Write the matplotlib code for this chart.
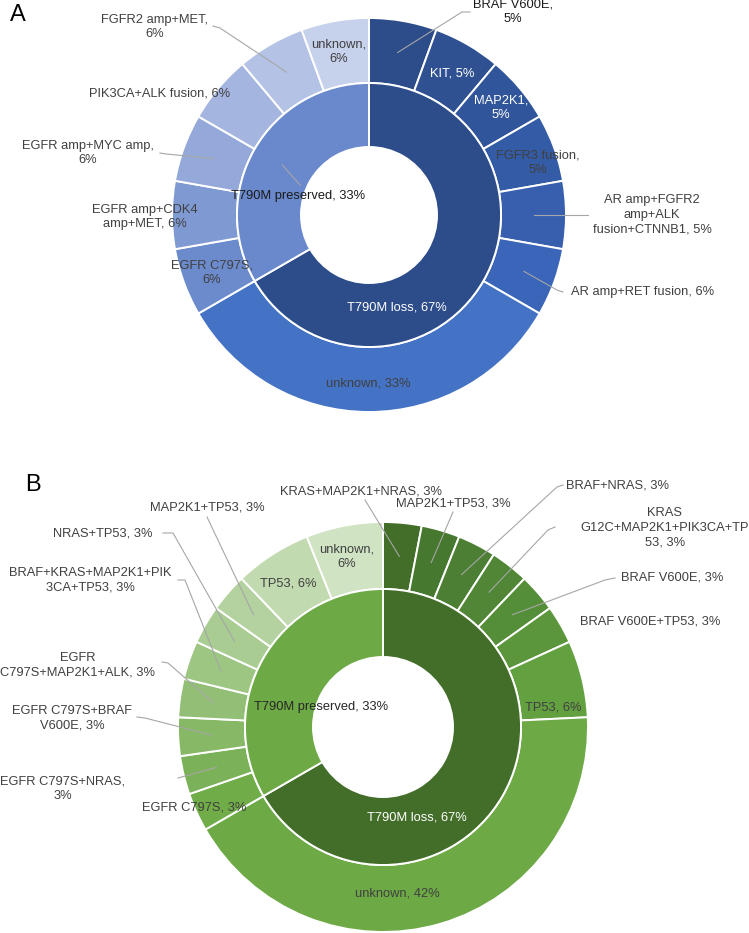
import matplotlib.pyplot as plt
import numpy as np

plt.rcParams['font.family'] = ['Liberation Sans', 'DejaVu Sans']

W, H = 749, 933

# ---- panel A data (patient counts, n=18) ----
a_inner_labels = ['T790M loss, 67%', 'T790M preserved, 33%']
a_inner_counts = [12, 6]
a_outer_labels = ['BRAF V600E,\n5%', 'KIT, 5%', 'MAP2K1,\n5%', 'FGFR3 fusion,\n5%',
                  'AR amp+FGFR2\namp+ALK\nfusion+CTNNB1, 5%', 'AR amp+RET fusion, 6%',
                  'unknown, 33%', 'EGFR C797S,\n6%', 'EGFR amp+CDK4\namp+MET, 6%',
                  'EGFR amp+MYC amp,\n6%', 'PIK3CA+ALK fusion, 6%', 'FGFR2 amp+MET,\n6%',
                  'unknown,\n6%']
a_outer_counts = [1, 1, 1, 1, 1, 1, 6, 1, 1, 1, 1, 1, 1]

# ---- panel B data (patient counts, n=33) ----
b_inner_labels = ['T790M loss, 67%', 'T790M preserved, 33%']
b_inner_counts = [22, 11]
b_outer_labels = ['KRAS+MAP2K1+NRAS, 3%', 'MAP2K1+TP53, 3%', 'BRAF+NRAS, 3%',
                  'KRAS\nG12C+MAP2K1+PIK3CA+TP\n53, 3%', 'BRAF V600E, 3%',
                  'BRAF V600E+TP53, 3%', 'TP53, 6%', 'unknown, 42%', 'EGFR C797S, 3%',
                  'EGFR C797S+NRAS,\n3%', 'EGFR C797S+BRAF\nV600E, 3%',
                  'EGFR\nC797S+MAP2K1+ALK, 3%', 'BRAF+KRAS+MAP2K1+PIK\n3CA+TP53, 3%',
                  'NRAS+TP53, 3%', 'MAP2K1+TP53, 3%', 'TP53, 6%', 'unknown,\n6%']
b_outer_counts = [1, 1, 1, 1, 1, 1, 2, 14, 1, 1, 1, 1, 1, 1, 1, 2, 2]

# colours
a_inner_colors = ['#2D4C8A', '#6A89CC']
a_outer_colors = ['#2D4C8A', '#2F5192', '#31559A', '#345BA5', '#375FAE', '#3A65B8', '#4472C4',
                  '#6C8BCD', '#7F9AD3', '#94A9DA', '#A4B6DF', '#B4C3E5', '#C6D1EB']
b_inner_colors = ['#436E2A', '#6DAA45']
b_outer_colors = ['#436E2A', '#477830', '#4C7F33', '#508636', '#558E38', '#5B953C', '#63A040',
                  '#6DAA45', '#70AC48', '#7BB259', '#86B866', '#92BF75', '#9DC683', '#A8CC91',
                  '#B3D29F', '#C1DAAF', '#D0E3C3']

fig = plt.figure(figsize=(W / 100, H / 100), dpi=100)
ax = fig.add_axes([0, 0, 1, 1])

TXT = '#404040'
LEAD = '#A6A6A6'


def mid_point(counts, i, cx, cy, r):
    tot = sum(counts)
    frac = (sum(counts[:i]) + counts[i] / 2) / tot
    ang = np.deg2rad(90 - 360 * frac)
    return cx + r * np.cos(ang), (H - cy) + r * np.sin(ang)


def donut(cx, cy, R, r_mid, r_hole, inner_counts, inner_colors, outer_counts, outer_colors):
    ax.pie(outer_counts, radius=R, center=(cx, H - cy), startangle=90, counterclock=False,
           colors=outer_colors,
           wedgeprops=dict(width=R - r_mid, edgecolor='white', linewidth=1.4))
    ax.pie(inner_counts, radius=r_mid, center=(cx, H - cy), startangle=90, counterclock=False,
           colors=inner_colors,
           wedgeprops=dict(width=r_mid - r_hole, edgecolor='white', linewidth=1.4))


def put_labels(labels, pos, colors_txt, leaders, counts, cx, cy, r):
    for i, lab in enumerate(labels):
        x, y = pos[i]
        ax.text(x, H - y, lab, ha='center', va='center', fontsize=9.3,
                color=colors_txt.get(i, TXT), linespacing=1.3)
        if i in leaders:
            pts = [(px, H - py) for px, py in leaders[i]]
            pts.append(mid_point(counts, i, cx, cy, r))
            xs, ys = zip(*pts)
            ax.plot(xs, ys, color=LEAD, lw=0.8, zorder=1.5)


# ---- panel A ----
ax_c, ay_c = 369, 215
donut(ax_c, ay_c, 197, 132, 68, a_inner_counts, a_inner_colors, a_outer_counts, a_outer_colors)
a_outer_pos = [(513, 12), (452, 73), (501, 108), (538, 163), (652, 215), (643, 292),
               (368, 383), (212, 273), (145, 217), (88, 153), (160, 94), (155, 27), (339, 52)]
a_outer_tc = {0: '#1A1A1A', 1: 'white', 2: 'white'}
a_outer_lead = {0: [(470, 12), (462, 12)], 4: [(588, 215)], 5: [(563, 292), (557, 290)],
                9: [(160, 153), (166, 154)], 11: [(213, 26), (220, 28)]}
put_labels(a_outer_labels, a_outer_pos, a_outer_tc, a_outer_lead, a_outer_counts,
           ax_c, ay_c, 165)
put_labels(a_inner_labels, [(397, 307), (298, 196)], {0: 'white', 1: '#1A1A1A'},
           {1: [(300, 185)]}, a_inner_counts, ax_c, ay_c, 100)
ax.text(18, H - 15, 'A', fontsize=17, ha='center', va='center', color='black')

# ---- panel B ----
bx_c, by_c = 383, 727
donut(bx_c, by_c, 205, 138, 70, b_inner_counts, b_inner_colors, b_outer_counts, b_outer_colors)
b_outer_pos = [(361, 492), (453, 503), (618, 485), (665, 528), (672, 578), (650, 622),
               (553, 707), (397, 893), (194, 807), (63, 789), (72, 718), (78, 665),
               (90, 580), (103, 533), (207, 507), (288, 583), (347, 557)]
b_outer_lead = {0: [(365, 500)], 1: [(453, 512)], 2: [(563, 485), (557, 487)],
                3: [(555, 527), (548, 530)], 4: [(615, 578), (605, 580)],
                9: [(178, 778)], 10: [(137, 717), (145, 718)], 11: [(162, 662), (168, 663)],
                12: [(178, 580), (185, 580)], 13: [(163, 533), (173, 533)], 14: [(207, 517)]}
put_labels(b_outer_labels, b_outer_pos, {}, b_outer_lead, b_outer_counts, bx_c, by_c, 171.5)
put_labels(b_inner_labels, [(417, 817), (321, 707)], {0: 'white', 1: '#262626'}, {},
           b_inner_counts, bx_c, by_c, 104)
ax.text(33, H - 485, 'B', fontsize=17, ha='center', va='center', color='black')

ax.set_xlim(0, W)
ax.set_ylim(0, H)
ax.set_aspect('auto')
ax.axis('off')

fig.savefig('out.png', dpi=100, facecolor='white')
